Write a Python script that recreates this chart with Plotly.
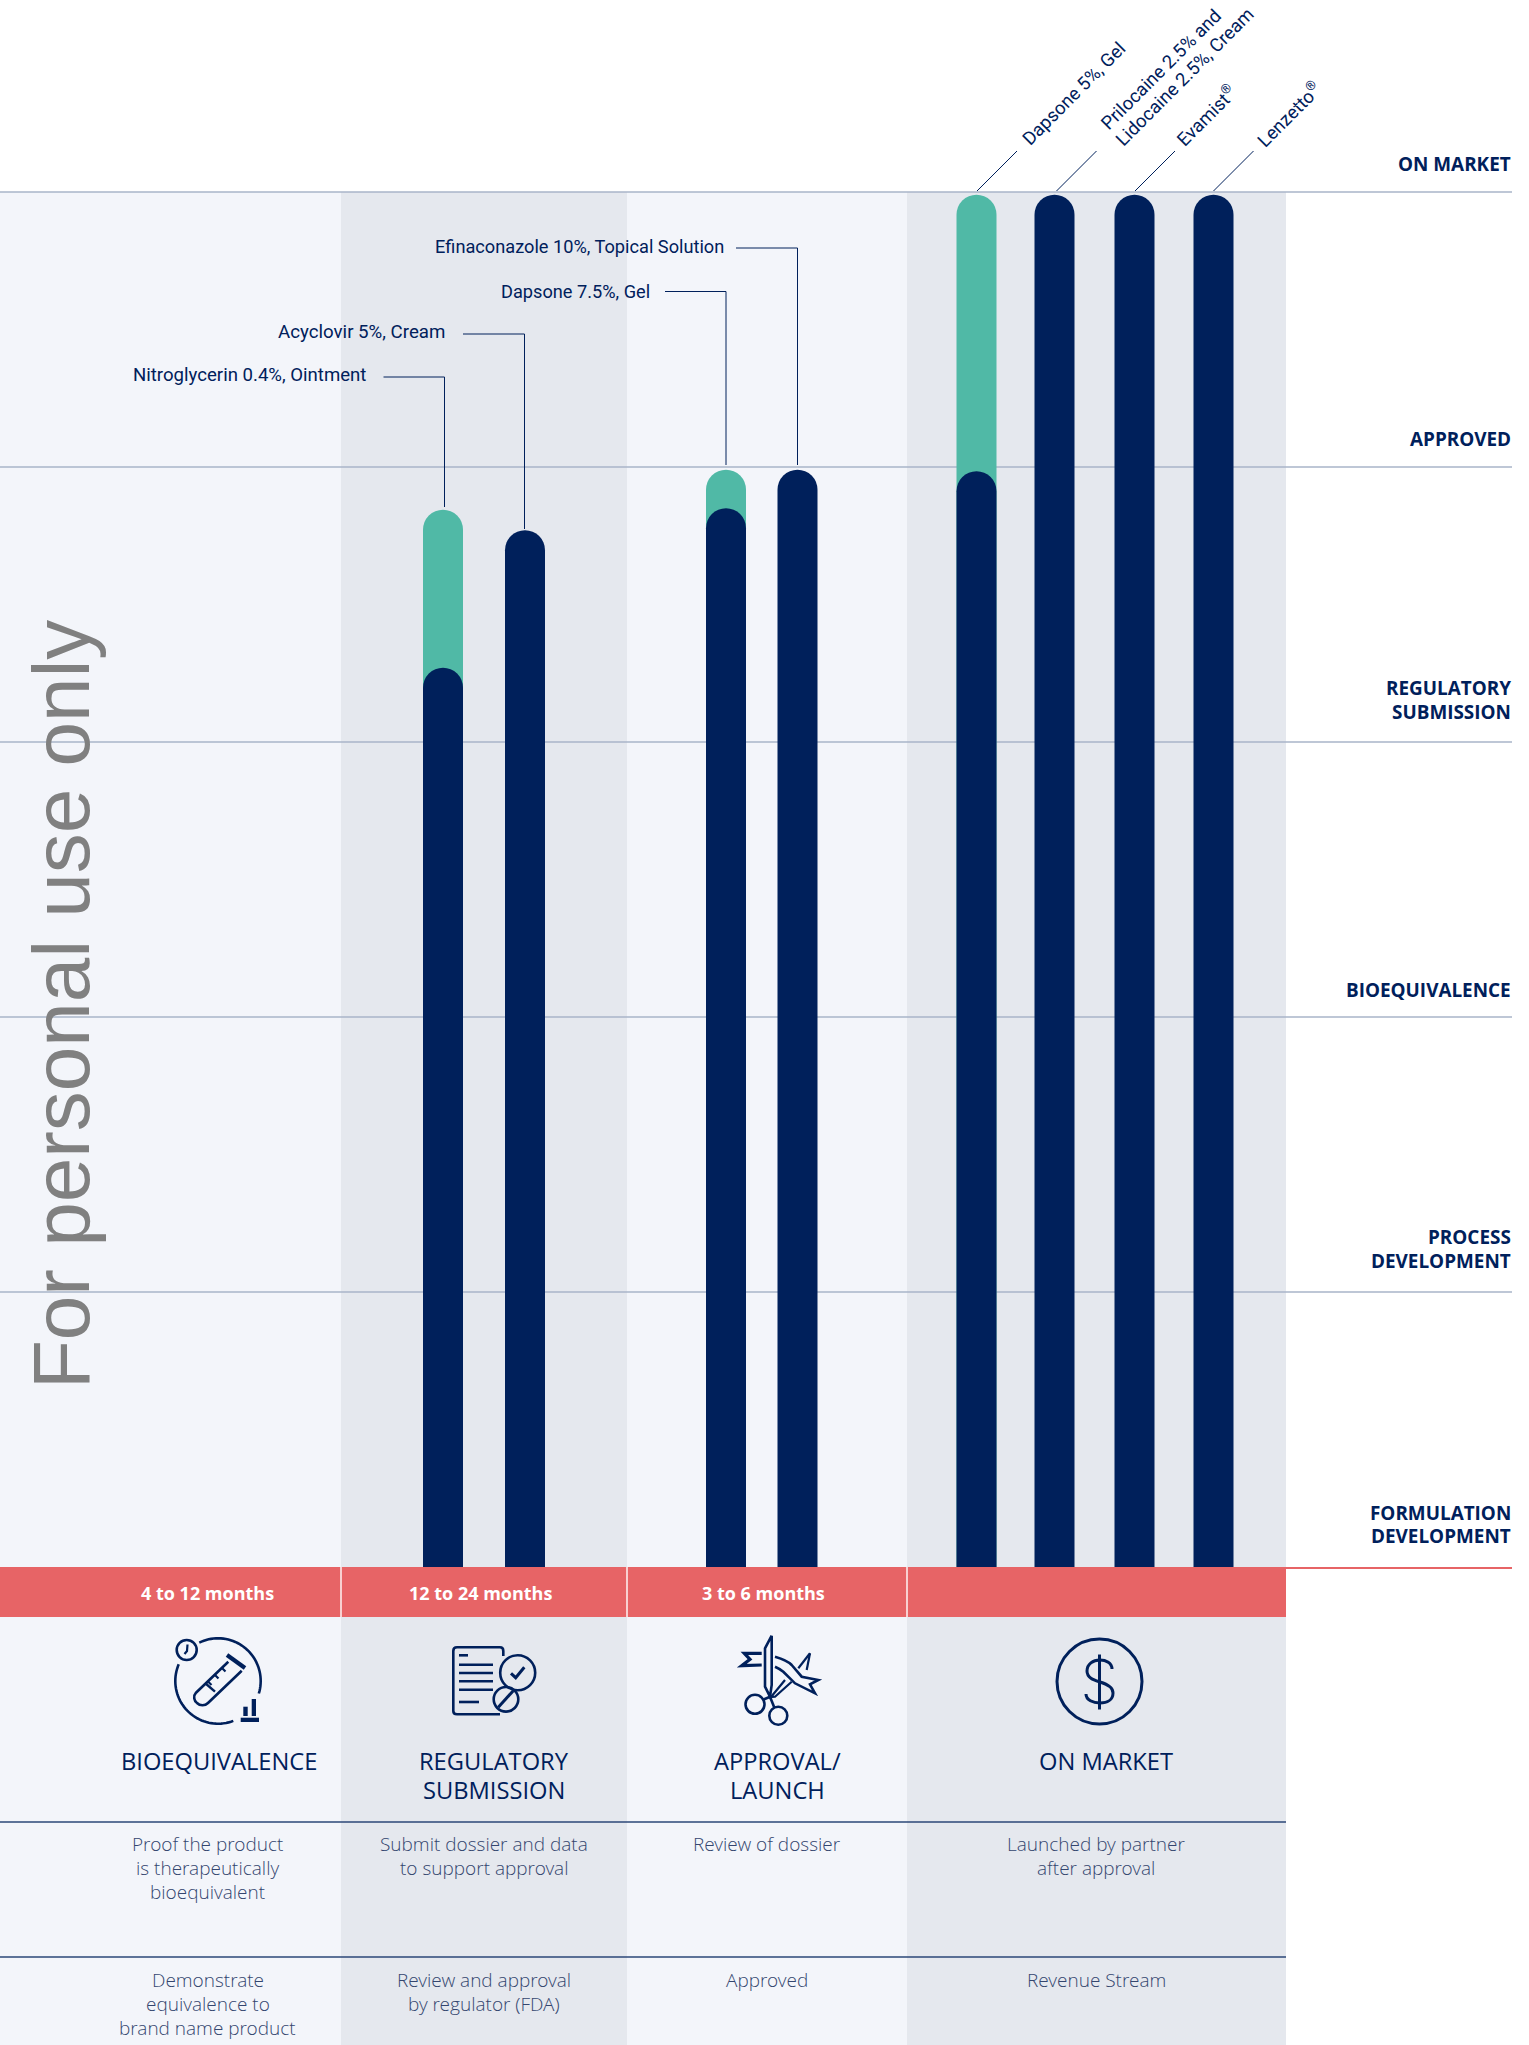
import math
import re
import plotly.graph_objects as go

W, H = 1529, 2045

# ---- data ----
candidates = ["Nitroglycerin 0.4%, Ointment", "Acyclovir 5%, Cream", "Dapsone 7.5%, Gel",
              "Efinaconazole 10%, Topical Solution", "Dapsone 5%, Gel",
              "Prilocaine 2.5% and Lidocaine 2.5%, Cream", "Evamist", "Lenzetto"]
navy_values = [3.27, 3.77, 3.85, 3.99, 3.985, 4.99, 4.99, 4.99]
teal_values = [3.845, None, 3.99, None, 4.99, None, None, None]
stage_labels = [["FORMULATION", "DEVELOPMENT"], ["PROCESS", "DEVELOPMENT"], ["BIOEQUIVALENCE"],
                ["REGULATORY", "SUBMISSION"], ["APPROVED"], ["ON MARKET"]]
durations = ["4 to 12 months", "12 to 24 months", "3 to 6 months"]
phase_titles = [["BIOEQUIVALENCE"], ["REGULATORY", "SUBMISSION"], ["APPROVAL/", "LAUNCH"], ["ON MARKET"]]
row1 = [["Proof the product", "is therapeutically", "bioequivalent"],
        ["Submit dossier and data", "to support approval"],
        ["Review of dossier"],
        ["Launched by partner", "after approval"]]
row2 = [["Demonstrate", "equivalence to", "brand name product"],
        ["Review and approval", "by regulator (FDA)"],
        ["Approved"],
        ["Revenue Stream"]]

# ---- layout geometry ----
bar_centres = [443, 525, 726, 797.5, 976.5, 1054.5, 1134.5, 1213.5]
BAR_W = 40
Y0, UNIT = 1567, 275
NAVY, TEAL, RED = "#00205b", "#50b9a6", "#e76466"
LIGHT, DARK = "#f3f5fa", "#e5e8ee"
GRID = "#a9b4c9"
col_edges = [0, 341, 627, 907, 1286]
FONT = "Open Sans"
LABEL_FONT = "Roboto"


def X(p):
    return p / W


def Y(p):
    return 1 - p / H


def path(s):
    out = []
    for seg in re.findall(r"[MLCQZ][^MLCQZ]*", s):
        nums = [float(n) for n in seg[1:].split()]
        coords = " ".join(f"{X(nums[i]):.5f},{Y(nums[i + 1]):.5f}" for i in range(0, len(nums), 2))
        out.append(seg[0] + coords)
    return " ".join(out)


shapes = []
annotations = []


def rect(x0, y0, x1, y1, color, layer="below"):
    shapes.append(dict(type="rect", xref="paper", yref="paper", x0=X(x0), x1=X(x1), y0=Y(y0), y1=Y(y1),
                       fillcolor=color, line=dict(width=0), layer=layer))


def line(x0, y0, x1, y1, color=NAVY, width=1.0, layer="above"):
    shapes.append(dict(type="line", xref="paper", yref="paper", x0=X(x0), x1=X(x1), y0=Y(y0), y1=Y(y1),
                       line=dict(color=color, width=width), layer=layer))


def stroke(s, width=2.6, fill=None):
    shapes.append(dict(type="path", xref="paper", yref="paper", path=path(s),
                       line=dict(color=NAVY, width=width), fillcolor=fill or "rgba(0,0,0,0)", layer="above"))


def ellipse(cx, cy, rx, ry, width=2.6):
    shapes.append(dict(type="circle", xref="paper", yref="paper", x0=X(cx - rx), x1=X(cx + rx),
                       y0=Y(cy + ry), y1=Y(cy - ry), line=dict(color=NAVY, width=width), layer="above"))


def arc(cx, cy, r, a0, a1, width=2.6):
    n = 40
    pts = []
    for i in range(n + 1):
        a = math.radians(a0 + (a1 - a0) * i / n)
        pts.append(f"{cx + r * math.cos(a):.2f} {cy + r * math.sin(a):.2f}")
    stroke("M" + pts[0] + " " + " ".join("L" + p for p in pts[1:]), width)


def text(x, y, s, size, color=NAVY, family=FONT, anchor="center", weight=None, angle=0):
    annotations.append(dict(xref="paper", yref="paper", x=X(x), y=Y(y), text=s, showarrow=False,
                            xanchor=anchor, yanchor="middle", textangle=angle, align="center",
                            font=dict(size=size, color=color, family=family, weight=weight or 400)))


# backgrounds
for i in range(4):
    rect(col_edges[i], 192, col_edges[i + 1], H, LIGHT if i % 2 == 0 else DARK)

# stage lines
for level in range(1, 6):
    line(0, Y0 - level * UNIT, 1512, Y0 - level * UNIT, GRID, 1.4, layer="below")

# red band
rect(0, 1567, 1286, 1617, RED, layer="above")
line(1286, 1568, 1512, 1568, RED, 2.2)
for xe in col_edges[1:4]:
    line(xe, 1567, xe, 1617, "#ffffff", 1.4)

# table lines
for yl in (1822, 1957):
    line(0, yl, 1286, yl, "#2b4777", 1.5)

# stage labels
stage_y = [[1512.5, 1536], [1237, 1261], [989.5], [688.5, 712], [439], [164]]
for lines_, ys in zip(stage_labels, stage_y):
    for t, y in zip(lines_, ys):
        text(1513, y, t, 18.9, anchor="right", weight=700)

# duration labels
for t, cx in zip(durations, [207.5, 480.5, 763.5]):
    text(cx, 1592.5, t, 18, "#ffffff", weight=700)

# phase titles
for lines_, cx in zip(phase_titles, [219, 494, 777, 1106]):
    for j, t in enumerate(lines_):
        text(cx, 1761 + j * 29, t, 23.7)

# description rows
DESC = "#34466f"
for lines_, cx in zip(row1, [207.5, 483.5, 767, 1096]):
    for j, t in enumerate(lines_):
        text(cx, 1843.5 + j * 24, t, 19, DESC, family="Open Sans Light, Open Sans", weight=300)
for lines_, cx in zip(row2, [207.5, 483.5, 767, 1096]):
    for j, t in enumerate(lines_):
        text(cx, 1979.5 + j * 24, t, 19, DESC, family="Open Sans Light, Open Sans", weight=300)

# horizontal callouts
callouts = [
    (candidates[0], 368, 375, 383.5, 377, 444.5, 507),
    (candidates[1], 447, 332, 463, 334, 524.5, 529),
    (candidates[2], 651.5, 291.5, 665, 291.5, 726, 465),
    (candidates[3], 725.5, 247, 736, 248, 797.5, 465),
]
for (label, rx, ry, lx0, ly, lx1, ly1), size in zip(callouts, (18.6, 18.7, 18.2, 18.2)):
    text(rx, ry, label, size, family=LABEL_FONT, anchor="right", weight=400)
    line(lx0, ly, lx1, ly)
    line(lx1, ly, lx1, ly1)

# diagonal callouts
for x0 in (977, 1056.5, 1135, 1213.5):
    line(x0, 191, x0 + 40, 151)
rot = [("Dapsone 5%, Gel", 1074, 94), ("Prilocaine 2.5% and", 1161, 70), ("Lidocaine 2.5%, Cream", 1185, 77),
       ("Evamist<sup>®</sup>", 1206.5, 116), ("Lenzetto<sup>®</sup>", 1288.5, 114)]
for t, cx, cy in rot:
    text(cx, cy, t, 18.5, family=LABEL_FONT, weight=400, angle=-45)

# watermark
text(61, 1005, "For personal use only", 80, "#808080", family="Liberation Sans", angle=-90)

# icon 1: test tube
arc(218, 1681, 42.7, -116, 17)
arc(218, 1681, 42.7, 69, 203)
ellipse(186.7, 1650, 10, 10)
stroke("M187.5 1644.5 L187 1651 L184.5 1654", 2.2)
stroke("M228.3 1661.7 L196 1692.7 C193 1696 194 1701 197 1703 C200 1706 205 1706 208 1703 L241.7 1670.7")
stroke("M227 1655 L245 1668", 4.2)
stroke("M205 1683 L215 1691.7", 2.4)
for px_, py_ in ((222, 1668), (215, 1675), (208, 1681.5)):
    stroke(f"M{px_} {py_} L{px_ + 3.5} {py_ + 3.5}", 2.2)
rect(243.3, 1706.7, 247.7, 1716, NAVY, "above")
rect(251.7, 1699, 256, 1716, NAVY, "above")
rect(240.7, 1717.7, 259, 1722, NAVY, "above")

# icon 2: document
stroke("M503.3 1656 L503.3 1651 C503.3 1648.5 502 1647.3 500 1647.3 L457 1647.3 C454.5 1647.3 453.3 1648.5 453.3 1651 "
       "L453.3 1711 C453.3 1713 454.5 1714.3 457 1714.3 L500 1714.3")
stroke("M459 1655.3 L468 1655.3")
for yl in (1664.7, 1673, 1681.3, 1689.7):
    stroke(f"M459 {yl} L493 {yl}")
stroke("M459 1702 L479 1702")
ellipse(517.7, 1672.7, 17.5, 17.5)
stroke("M511 1673.3 L515.7 1677.7 L524.3 1667.3", 3)
ellipse(506, 1699.3, 12.3, 12.3)
stroke("M498.3 1707.3 L513.3 1690.7", 3)

# icon 3: scissors and ribbon
stroke("M771.7 1635.7 L765 1648.3 L765 1686.7 L770 1696.7 L771.7 1685 L771.7 1635.7")
stroke("M770 1696.7 L774.5 1708")
stroke("M770 1696.7 L762.5 1700")
stroke("M810 1653.3 L798.3 1668.3", 2.2)
stroke("M810 1653.3 L806.7 1670", 2.2)
stroke("M791.7 1681.7 L775 1696.7 L771 1697 L785 1680", 2.2)
ellipse(755, 1704.3, 9.5, 9.5)
ellipse(778.3, 1715.7, 9, 9)
stroke("M761.7 1653.3 L744.3 1653.3 L750 1659.3 L741.7 1665.7 L761.7 1665", 3.2)
stroke("M775 1656.7 C783 1659 788 1661 791.7 1665 L801.7 1676.7 L818.3 1680 L810 1684.3 L815 1693.3 L795 1683.3 "
       "L783.3 1671.7 C780 1669 778 1668 775 1666.7")

# icon 4: dollar
ellipse(1099.5, 1681.5, 42.5, 42.5, 3.0)
stroke("M1099.5 1654.5 L1099.5 1709.5", 3)
stroke("M1112 1669 C1112 1663 1106 1660 1100 1660 C1093 1660 1087 1664 1087 1671 C1087 1678 1094 1680 1100 1682 "
       "C1107 1684 1113 1687 1113 1693 C1113 1700 1107 1703 1100 1703 C1093 1703 1086 1700 1086 1694", 3)

fig = go.Figure()
fig.add_bar(x=bar_centres, y=teal_values, width=BAR_W, marker=dict(color=TEAL, cornerradius=BAR_W / 2, line=dict(width=0)),
            name="Target", showlegend=False, hovertext=candidates)
fig.add_bar(x=bar_centres, y=navy_values, width=BAR_W, marker=dict(color=NAVY, cornerradius=BAR_W / 2, line=dict(width=0)),
            name="Progress", showlegend=False, hovertext=candidates, xaxis="x2", yaxis="y2")

y_range = [(Y0 - H) / UNIT, Y0 / UNIT]
fig.update_layout(
    width=W, height=H, autosize=False,
    margin=dict(l=0, r=0, t=0, b=0, pad=0),
    paper_bgcolor="#ffffff", plot_bgcolor="rgba(0,0,0,0)",
    showlegend=False,
    xaxis=dict(range=[0, W], visible=False, fixedrange=True),
    yaxis=dict(range=y_range, visible=False, fixedrange=True),
    xaxis2=dict(range=[0, W], visible=False, fixedrange=True, overlaying="x", anchor="y2"),
    yaxis2=dict(range=y_range, visible=False, fixedrange=True, overlaying="y", anchor="x2"),
    shapes=shapes, annotations=annotations,
)
fig.write_html("out.html", config={"displayModeBar": False},
               post_script="document.body.style.margin='0';document.body.style.overflow='hidden';")
